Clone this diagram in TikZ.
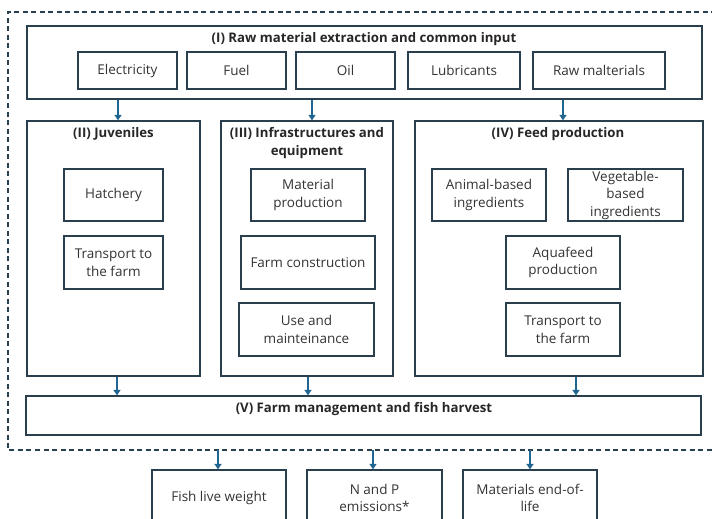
\documentclass[tikz,border=0pt]{standalone}
\usepackage{fontspec}
\setmainfont{Open Sans}
\usetikzlibrary{arrows.meta}
\definecolor{boxc}{HTML}{2A3F4E}
\definecolor{arrc}{HTML}{1F6592}
\definecolor{txtc}{HTML}{333333}
\tikzset{
  box/.style={draw=boxc, line width=1.3pt, inner sep=0pt, align=center, text=txtc,
    font=\fontsize{13.5}{17.5}\selectfont},
  ttl/.style={inner sep=0pt, align=center, text=black!85,
    font=\fontsize{13.2}{18}\bfseries\selectfont},
  arr/.style={draw=arrc, line width=1.6pt, -{Triangle[width=7pt,length=5.5pt]}},
  dsh/.style={draw=boxc, line width=1.1pt, dash pattern=on 5pt off 3.5pt},
}
\newcommand{\bx}[6]{% name, x1, y1, x2, y2, text
  \node[box, minimum width={(#4-#2)*1pt}, minimum height={(#5-#3)*1pt}]
    (#1) at ({(#2+#4)/2},{-(#3+#5)/2}) {#6};}
\begin{document}
\begin{tikzpicture}[x=1pt,y=1pt]
\useasboundingbox (0,0) rectangle (712,-519);
% outer dashed frame
\draw[dsh] (716,-12) -- (8,-12) -- (8,-450) -- (716,-450);
% (I)
\bx{I}{27}{26}{702}{99}{}
\node[ttl] (tI) at (364,-39) {(I) Raw material extraction and common input};
\bx{elec}{78}{52}{177}{89}{Electricity}
\bx{fuel}{187}{52}{286}{89}{Fuel}
\bx{oil}{296}{52}{395}{89}{Oil}
\bx{lub}{408}{52}{520}{89}{Lubricants}
\bx{raw}{533}{52}{665}{89}{Raw malterials}
% (II)
\bx{II}{27}{121}{200}{376}{}
\node[ttl] (tII) at (113.5,-134) {(II) Juveniles};
\bx{hatch}{64}{169}{163}{221}{Hatchery}
\bx{transJ}{64}{236}{163}{289}{Transport to\\the farm}
% (III)
\bx{III}{221}{121}{393}{376}{}
\node[ttl] (tIII) at (307,-143) {(III) Infrastructures and\\equipment};
\bx{mat}{251}{169}{365}{221}{Material\\production}
\bx{farmc}{241}{236}{375}{289}{Farm construction}
\bx{use}{239}{303}{374}{356}{Use and\\mainteinance}
% (IV)
\bx{IV}{415}{121}{703}{376}{}
\node[ttl] (tIV) at (558,-134) {(IV) Feed production};
\bx{anim}{432}{169}{546}{221}{Animal-based\\ingredients}
\bx{veg}{568}{169}{683}{221}{Vegetable-\\based\\ingredients}
\bx{aqua}{506}{236}{620}{289}{Aquafeed\\production}
\bx{transF}{506}{303}{620}{356}{Transport to\\the farm}
% (V)
\bx{V}{26}{396}{701}{435}{}
\node[ttl] (tV) at (364,-409) {(V) Farm management and fish harvest};
% outputs
\bx{fish}{152}{470}{286}{526}{Fish live weight}
\bx{np}{307}{470}{442}{526}{N and P\\emissions*}
\bx{matend}{463}{470}{597}{526}{Materials end-of-\\life}
% arrow guide coordinates
\coordinate (a1) at (118,0);
\coordinate (a2) at (312,0);
\coordinate (a3) at (563,0);
\coordinate (b1) at (117,0);
\coordinate (b2) at (308,0);
\coordinate (b3) at (576,0);
\coordinate (d1) at (218,-450);
\coordinate (d2) at (373,-450);
\coordinate (d3) at (530,-450);
% arrows
\draw[arr] (I.south -| a1) -- (II.north -| a1);
\draw[arr] (I.south -| a2) -- (III.north -| a2);
\draw[arr] (I.south -| a3) -- (IV.north -| a3);
\draw[arr] (II.south -| b1) -- (V.north -| b1);
\draw[arr] (III.south -| b2) -- (V.north -| b2);
\draw[arr] (IV.south -| b3) -- (V.north -| b3);
\draw[arr] (d1) -- (fish.north -| d1);
\draw[arr] (d2) -- (np.north -| d2);
\draw[arr] (d3) -- (matend.north -| d3);
\end{tikzpicture}
\end{document}
